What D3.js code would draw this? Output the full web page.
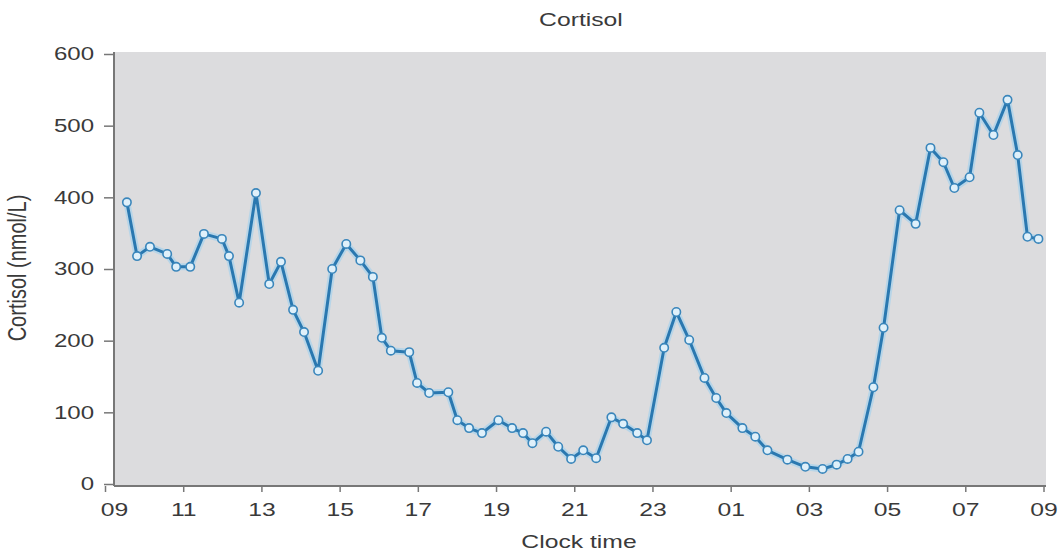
<!DOCTYPE html>
<html>
<head>
<meta charset="utf-8">
<script src="https://cdn.jsdelivr.net/npm/d3@7"></script>
<style>
  body { margin: 0; background: #fff; }
  text { font-family: "Liberation Sans", Arial, sans-serif; }
</style>
</head>
<body>
<svg id="chart"></svg>
<script>
const width = 1064;
const height = 556;

// hours after 09:00
const hours = [0.56, 0.82, 1.15, 1.59, 1.82, 2.18, 2.53, 2.99, 3.17, 3.43, 3.86, 4.20, 4.50, 4.81, 5.09, 5.45,
    5.81, 6.17, 6.53, 6.85, 7.08, 7.31, 7.78, 7.98, 8.29, 8.78, 9.01, 9.31, 9.64, 10.06, 10.41, 10.69,
    10.93, 11.28, 11.59, 11.92, 12.23, 12.56, 12.95, 13.25, 13.61, 13.86, 14.30, 14.61, 14.94, 15.33,
    15.63, 15.89, 16.30, 16.63, 16.94, 17.45, 17.91, 18.35, 18.71, 18.99, 19.27, 19.65, 19.91, 20.32,
    20.73, 21.11, 21.44, 21.72, 22.11, 22.36, 22.72, 23.08, 23.34, 23.59, 23.87];
const cortisol = [393, 318, 331, 321, 303, 303, 349, 342, 318, 253, 406, 279, 310, 243, 212, 158,
    300, 335, 312, 289, 204, 186, 184, 141, 127, 128, 89, 78, 71, 89, 78, 71,
    57, 73, 52, 35, 47, 36, 93, 84, 71, 61, 190, 240, 201, 148,
    120, 99, 78, 66, 47, 34, 24, 21, 27, 35, 45, 135, 218, 382,
    363, 469, 449, 413, 428, 518, 487, 536, 459, 345, 342];
const xTicks = [0, 2, 4, 6, 8, 10, 12, 14, 16, 18, 20, 22, 24];
const xTickLabels = ['09', '11', '13', '15', '17', '19', '21', '23', '01', '03', '05', '07', '09'];
const yTicks = [0, 100, 200, 300, 400, 500, 600];

const data = hours.map((h, i) => ({ h: h, v: cortisol[i] }));

const plot = { left: 114, right: 1046, top: 52, bottom: 486 };
const stretch = 1.3; // text in the source is drawn wide

const svg = d3.select('#chart')
    .attr('width', width)
    .attr('height', height);

const x = d3.scaleLinear().domain([0, 24]).range([105, 1043.5]);
const y = d3.scaleLinear().domain([0, 600]).range([484, 54]);

svg.append('rect')
    .attr('x', plot.left)
    .attr('y', plot.top)
    .attr('width', plot.right - plot.left)
    .attr('height', plot.bottom - plot.top)
    .attr('fill', '#dcdcde');

// y axis
const yAxis = svg.append('g')
    .attr('transform', `translate(${plot.left},0)`)
    .call(d3.axisLeft(y).tickValues(yTicks).tickSize(10).tickPadding(10));
yAxis.select('.domain').remove();
yAxis.selectAll('line').attr('stroke', '#777').attr('stroke-width', 1.5);
yAxis.selectAll('text').attr('font-size', 18.5).attr('fill', '#3a3a3a');
svg.append('line')
    .attr('x1', plot.left).attr('x2', plot.left)
    .attr('y1', plot.top).attr('y2', plot.bottom)
    .attr('stroke', '#777').attr('stroke-width', 2);

// x axis
const xAxis = svg.append('g')
    .attr('transform', `translate(0,${plot.bottom})`)
    .call(d3.axisBottom(x).tickValues(xTicks).tickFormat((d, i) => xTickLabels[i]).tickSize(6).tickPadding(11));
xAxis.select('.domain').remove();
xAxis.selectAll('line').attr('stroke', '#777').attr('stroke-width', 1.5);
xAxis.selectAll('text').attr('font-size', 19).attr('fill', '#3a3a3a');
// first label sits under the y axis
xAxis.selectAll('text').filter((d, i) => i === 0).attr('x', plot.left - x(0));
svg.append('line')
    .attr('x1', plot.left).attr('x2', plot.right)
    .attr('y1', plot.bottom).attr('y2', plot.bottom)
    .attr('stroke', '#777').attr('stroke-width', 2);

const line = d3.line().x(d => x(d.h)).y(d => y(d.v));

// soft halo under the line
svg.append('path')
    .datum(data)
    .attr('d', line)
    .attr('fill', 'none')
    .attr('stroke', '#9fd0ee')
    .attr('stroke-width', 7)
    .attr('stroke-linejoin', 'round')
    .attr('opacity', 0.6);

svg.append('path')
    .datum(data)
    .attr('d', line)
    .attr('fill', 'none')
    .attr('stroke', '#2a78b0')
    .attr('stroke-width', 3)
    .attr('stroke-linejoin', 'round');

svg.selectAll('circle.pt')
    .data(data)
    .enter()
    .append('circle')
    .attr('class', 'pt')
    .attr('cx', d => x(d.h))
    .attr('cy', d => y(d.v))
    .attr('r', 4.2)
    .attr('fill', '#dff0fa')
    .attr('stroke', '#3a86bb')
    .attr('stroke-width', 1.6);

svg.append('text')
    .attr('class', 'wide')
    .attr('x', 581).attr('y', 26)
    .attr('text-anchor', 'middle')
    .attr('font-size', 19)
    .attr('fill', '#3a3a3a')
    .text('Cortisol');

svg.append('text')
    .attr('class', 'wide')
    .attr('x', 579).attr('y', 548)
    .attr('text-anchor', 'middle')
    .attr('font-size', 19)
    .attr('fill', '#3a3a3a')
    .text('Clock time');

svg.append('text')
    .attr('transform', `translate(26,268) scale(${stretch},1) rotate(-90)`)
    .attr('text-anchor', 'middle')
    .attr('font-size', 20)
    .attr('fill', '#3a3a3a')
    .text('Cortisol (nmol/L)');

// widen horizontal labels
svg.selectAll('.tick text, text.wide').each(function () {
    const w = this.getComputedTextLength();
    d3.select(this)
        .attr('textLength', w * stretch)
        .attr('lengthAdjust', 'spacingAndGlyphs');
});
</script>
</body>
</html>
